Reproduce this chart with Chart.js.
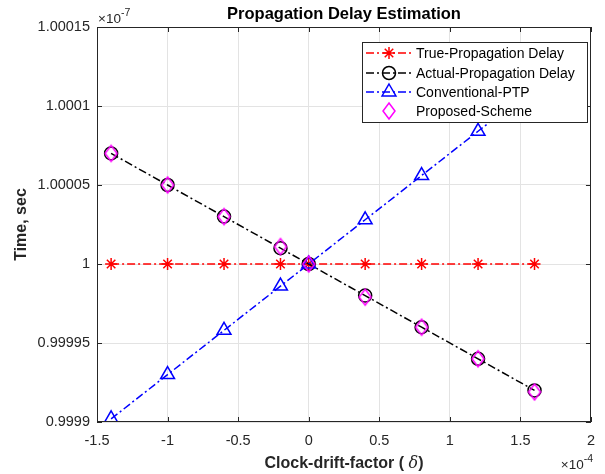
<!DOCTYPE html>
<html>
<head>
<meta charset="utf-8">
<script src="https://cdn.jsdelivr.net/npm/chart.js@4.4.1/dist/chart.umd.min.js"></script>
<style>
  html, body { margin: 0; padding: 0; background: #fff; }
  #wrap { width: 605px; height: 474px; position: relative; }
</style>
</head>
<body>
<div id="wrap"><canvas id="chart"></canvas></div>
<script>
// clock drift factor (x 1e-4)
var driftFactor = [-1.4, -1, -0.6, -0.2, 0, 0.4, 0.8, 1.2, 1.6];

// delays (x 1e-7 sec)
var trueDelay = [1, 1, 1, 1, 1, 1, 1, 1, 1];
var actualDelay = [1.00007, 1.00005, 1.00003, 1.00001, 1, 0.99998, 0.99996, 0.99994, 0.99992];
var conventionalPTP = [0.999902, 0.99993, 0.999958, 0.999986, 1, 1.000028, 1.000056, 1.000084, 1.000112];
var proposedScheme = [1.00007, 1.00005, 1.00003, 1.000011, 1, 0.999979, 0.99996, 0.99994, 0.999919];

var seriesNames = ["True-Propagation Delay", "Actual-Propagation Delay", "Conventional-PTP", "Proposed-Scheme"];

var xTickValues = [-1.5, -1, -0.5, 0, 0.5, 1, 1.5, 2];
var xTickLabels = ["-1.5", "-1", "-0.5", "0", "0.5", "1", "1.5", "2"];
var yTickValues = [0.9999, 0.99995, 1, 1.00005, 1.0001, 1.00015];
var yTickLabels = ["0.9999", "0.99995", "1", "1.00005", "1.0001", "1.00015"];

var FONT = "'Liberation Sans', Arial, Helvetica, sans-serif";
var AXIS_COLOR = "#262626";
var DASH_DOT = [8, 3, 2, 3];

function toPoints(ys) {
    return driftFactor.map(function (x, i) { return { x: x, y: ys[i] }; });
}

// MATLAB style diamond (a bit taller than wide)
function makeDiamond(w, h, color, lw) {
    var c = document.createElement("canvas");
    c.width = w + 4;
    c.height = h + 4;
    var g = c.getContext("2d");
    g.strokeStyle = color;
    g.lineWidth = lw;
    g.beginPath();
    g.moveTo(c.width / 2, 2);
    g.lineTo(c.width - 2, c.height / 2);
    g.lineTo(c.width / 2, c.height - 2);
    g.lineTo(2, c.height / 2);
    g.closePath();
    g.stroke();
    return c;
}
var diamond = makeDiamond(12, 16, "#ff00ff", 1.5);

function drawMarker(ctx, style, x, y, color) {
    ctx.save();
    ctx.strokeStyle = color;
    ctx.lineWidth = 1.5;
    ctx.setLineDash([]);
    ctx.beginPath();
    if (style === "star") {
        var r = 6;
        ctx.moveTo(x - r, y); ctx.lineTo(x + r, y);
        ctx.moveTo(x, y - r); ctx.lineTo(x, y + r);
        var d = r * 0.7071;
        ctx.moveTo(x - d, y - d); ctx.lineTo(x + d, y + d);
        ctx.moveTo(x - d, y + d); ctx.lineTo(x + d, y - d);
        ctx.stroke();
    } else if (style === "circle") {
        ctx.arc(x, y, 6.5, 0, Math.PI * 2);
        ctx.stroke();
    } else if (style === "triangle") {
        var rt = 8;
        ctx.moveTo(x, y - rt);
        ctx.lineTo(x + rt * 0.866, y + rt * 0.5);
        ctx.lineTo(x - rt * 0.866, y + rt * 0.5);
        ctx.closePath();
        ctx.stroke();
    } else {
        ctx.drawImage(diamond, x - diamond.width / 2, y - diamond.height / 2);
    }
    ctx.restore();
}

var overlay = {
    id: "overlay",
    afterDraw: function (chart) {
        var ctx = chart.ctx;
        var a = chart.chartArea;
        var xs = chart.scales.x;
        var ys = chart.scales.y;
        ctx.save();

        // box and inward ticks
        ctx.strokeStyle = AXIS_COLOR;
        ctx.lineWidth = 1;
        ctx.beginPath();
        xs.ticks.forEach(function (t) {
            var px = Math.round(xs.getPixelForValue(t.value)) + 0.5;
            ctx.moveTo(px, a.bottom); ctx.lineTo(px, a.bottom - 5);
            ctx.moveTo(px, a.top); ctx.lineTo(px, a.top + 5);
        });
        ys.ticks.forEach(function (t) {
            var py = Math.round(ys.getPixelForValue(t.value)) + 0.5;
            ctx.moveTo(a.left, py); ctx.lineTo(a.left + 5, py);
            ctx.moveTo(a.right, py); ctx.lineTo(a.right - 5, py);
        });
        ctx.stroke();
        ctx.strokeRect(Math.round(a.left) + 0.5, Math.round(a.top) + 0.5,
            Math.round(a.width) - 1, Math.round(a.height) - 1);

        // legend
        var lx = 362, ly = 42, lw = 225, lh = 80;
        ctx.fillStyle = "#ffffff";
        ctx.fillRect(lx, ly, lw, lh);
        ctx.strokeStyle = AXIS_COLOR;
        ctx.lineWidth = 1;
        ctx.strokeRect(lx + 0.5, ly + 0.5, lw, lh);
        var rows = [53, 73, 92, 111];
        var styles = ["star", "circle", "triangle", "diamond"];
        var colors = ["#ff0000", "#000000", "#0000ff", "#ff00ff"];
        for (var i = 0; i < 4; i++) {
            if (i < 3) {
                ctx.save();
                ctx.strokeStyle = colors[i];
                ctx.lineWidth = 1.5;
                ctx.setLineDash(DASH_DOT);
                ctx.beginPath();
                ctx.moveTo(366, rows[i]);
                ctx.lineTo(412, rows[i]);
                ctx.stroke();
                ctx.restore();
            }
            drawMarker(ctx, styles[i], 389, rows[i], colors[i]);
            ctx.fillStyle = "#000000";
            ctx.font = "14px " + FONT;
            ctx.textBaseline = "middle";
            ctx.textAlign = "left";
            ctx.fillText(seriesNames[i], 416, rows[i] + 1);
        }

        // title
        ctx.fillStyle = "#000000";
        ctx.font = "bold 16.5px " + FONT;
        ctx.textAlign = "center";
        ctx.textBaseline = "middle";
        ctx.fillText("Propagation Delay Estimation", (a.left + a.right) / 2, 14);

        // y axis title
        ctx.save();
        ctx.translate(22, (a.top + a.bottom) / 2);
        ctx.rotate(-Math.PI / 2);
        ctx.font = "bold 16px " + FONT;
        ctx.fillStyle = AXIS_COLOR;
        ctx.fillText("Time, sec", 0, 0);
        ctx.restore();

        // x axis title with italic delta
        var parts = [
            { t: "Clock-drift-factor ( ", f: "bold 16px " + FONT },
            { t: "\u03b4", f: "italic 16px 'DejaVu Serif', 'Liberation Serif', serif" },
            { t: ")", f: "bold 16px " + FONT }
        ];
        var total = 0;
        parts.forEach(function (p) { ctx.font = p.f; p.w = ctx.measureText(p.t).width; total += p.w; });
        var sx = (a.left + a.right) / 2 - total / 2;
        ctx.textAlign = "left";
        ctx.fillStyle = AXIS_COLOR;
        parts.forEach(function (p) { ctx.font = p.f; ctx.fillText(p.t, sx, 464); sx += p.w; });

        // exponent labels
        ctx.fillStyle = AXIS_COLOR;
        ctx.textBaseline = "alphabetic";
        ctx.font = "13.5px " + FONT;
        ctx.fillText("\u00d710", 98, 23);
        var w7 = ctx.measureText("\u00d710").width;
        ctx.font = "10.5px " + FONT;
        ctx.fillText("-7", 98 + w7, 16);

        ctx.font = "13.5px " + FONT;
        var w4 = ctx.measureText("\u00d710").width;
        ctx.font = "10.5px " + FONT;
        var e4 = ctx.measureText("-4").width;
        var ex = 593 - e4 - w4;
        ctx.font = "13.5px " + FONT;
        ctx.fillText("\u00d710", ex, 469);
        ctx.font = "10.5px " + FONT;
        ctx.fillText("-4", ex + w4, 462);

        ctx.restore();
    }
};

Chart.defaults.font.family = FONT;
Chart.defaults.color = AXIS_COLOR;

new Chart(document.getElementById("chart"), {
    type: "scatter",
    data: {
        datasets: [
            {
                label: seriesNames[0],
                data: toPoints(trueDelay),
                showLine: true,
                borderColor: "#ff0000",
                borderWidth: 1.5,
                borderDash: DASH_DOT,
                pointStyle: "star",
                pointRadius: 6,
                pointBorderWidth: 1.5,
                pointBorderColor: "#ff0000",
                pointBackgroundColor: "transparent",
                order: 4
            },
            {
                label: seriesNames[1],
                data: toPoints(actualDelay),
                showLine: true,
                borderColor: "#000000",
                borderWidth: 1.5,
                borderDash: DASH_DOT,
                pointStyle: "circle",
                pointRadius: 6.5,
                pointBorderWidth: 1.5,
                pointBorderColor: "#000000",
                pointBackgroundColor: "transparent",
                order: 3
            },
            {
                label: seriesNames[2],
                data: toPoints(conventionalPTP),
                showLine: true,
                borderColor: "#0000ff",
                borderWidth: 1.5,
                borderDash: DASH_DOT,
                pointStyle: "triangle",
                pointRadius: 8,
                pointBorderWidth: 1.5,
                pointBorderColor: "#0000ff",
                pointBackgroundColor: "transparent",
                order: 2
            },
            {
                label: seriesNames[3],
                data: toPoints(proposedScheme),
                showLine: false,
                pointStyle: diamond,
                pointRadius: 8,
                order: 1
            }
        ]
    },
    options: {
        responsive: true,
        maintainAspectRatio: false,
        animation: false,
        events: [],
        layout: { padding: { left: 0, right: 12, top: 27, bottom: 0 } },
        plugins: {
            legend: { display: false },
            tooltip: { enabled: false },
            title: { display: false }
        },
        scales: {
            x: {
                type: "linear",
                min: -1.5,
                max: 2,
                afterBuildTicks: function (scale) {
                    scale.ticks = xTickValues.map(function (v) { return { value: v }; });
                },
                afterFit: function (scale) { scale.height = 52; },
                grid: { color: "#e3e3e3", drawTicks: false },
                border: { display: false },
                ticks: {
                    padding: 10,
                    font: { size: 14.5 },
                    color: AXIS_COLOR,
                    callback: function (v, i) { return xTickLabels[i]; }
                }
            },
            y: {
                type: "linear",
                min: 0.9999,
                max: 1.00015,
                afterBuildTicks: function (scale) {
                    scale.ticks = yTickValues.map(function (v) { return { value: v }; });
                },
                afterFit: function (scale) { scale.width = 97; },
                grid: { color: "#e3e3e3", drawTicks: false },
                border: { display: false },
                ticks: {
                    padding: 7,
                    font: { size: 14.5 },
                    color: AXIS_COLOR,
                    callback: function (v, i) { return yTickLabels[i]; }
                }
            }
        }
    },
    plugins: [overlay]
});
</script>
</body>
</html>
